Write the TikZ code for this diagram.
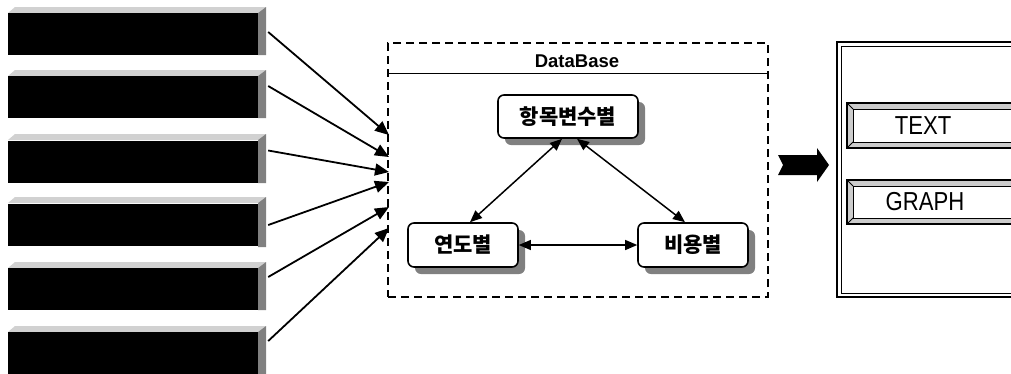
\documentclass[tikz,border=0pt]{standalone}
\usepackage{fontspec}
\setmainfont{Liberation Sans}
\newfontfamily\krfont{Noto Sans CJK KR}
\newfontfamily\narrowfont[FakeStretch=0.85]{Liberation Sans}
\usetikzlibrary{arrows.meta,shadows}
\tikzset{
  bar/.style={fill=black,draw=none,minimum width=250pt,minimum height=42pt,inner sep=0pt},
  inarrow/.style={line width=1.8pt,-{Triangle[length=14pt,width=12pt]}},
  rbox/.style={draw=black,line width=1.6pt,fill=white,rounded corners=6pt,minimum height=43pt,inner sep=0pt,
    font=\krfont\bfseries\fontsize{21pt}{23pt}\selectfont,
    drop shadow={shadow xshift=7pt,shadow yshift=-7pt,fill=black!50,opacity=1}},
  dbl/.style={line width=1.5pt,{Triangle[length=12pt,width=10pt]}-{Triangle[length=12pt,width=10pt]}},
  dbbox/.style={draw=black,line width=1.8pt,dash pattern=on 8pt off 5pt,inner sep=0pt},
  btnout/.style={draw=black,line width=1.6pt,fill=black!20},
  btnin/.style={draw=black,line width=0.8pt,fill=white},
  btntext/.style={font=\narrowfont\fontsize{26pt}{28pt}\selectfont,inner sep=0pt}
}
\begin{document}
\begin{tikzpicture}[x=1pt,y=-1pt]
\useasboundingbox[fill=white] (0,0) rectangle (1011,373);
% bars with 3D edges
\foreach \t/\b in {13/55,76/118,140/183,203/247,268/310,332/374}{
  \fill[black!18] (8,\t) -- (15,\t-6) -- (266,\t-6) -- (258,\t) -- cycle;
  \fill[black!50] (258,\t) -- (266,\t-6) -- (266,\b) -- (258,\b) -- cycle;
}
\node[bar] (b1) at (133,34) {};
\node[bar] (b2) at (133,97) {};
\node[bar] (b3) at (133,161.5) {};
\node[bar] (b4) at (133,225) {};
\node[bar] (b5) at (133,289) {};
\node[bar] (b6) at (133,353) {};
% database container
\node[dbbox,minimum width=380pt,minimum height=254pt] (db) at (578,170) {};
\draw[line width=1pt] (db.west |- 0,73) coordinate (sl) -- (db.east |- 0,73) coordinate (sr);
\node[font=\bfseries\fontsize{18.5pt}{21pt}\selectfont,inner sep=0pt] (dbt) at (577,61) {DataBase};
% incoming arrows
\coordinate (t1) at (389,135);
\coordinate (t2) at (389,157);
\coordinate (t3) at (389,172);
\coordinate (t4) at (389,182);
\coordinate (t5) at (389,207);
\coordinate (t6) at (389,228);
\draw[inarrow] ([xshift=10pt,yshift=2pt]b1.east) -- (t1);
\draw[inarrow] ([xshift=10pt,yshift=11pt]b2.east) -- (t2);
\draw[inarrow] ([xshift=10pt,yshift=11pt]b3.east) -- (t3);
\draw[inarrow] ([xshift=10pt,yshift=0pt]b4.east) -- (t4);
\draw[inarrow] ([xshift=10pt,yshift=12pt]b5.east) -- (t5);
\draw[inarrow] ([xshift=10pt,yshift=12pt]b6.east) -- (t6);
% inner boxes
\node[rbox,minimum width=140pt] (top) at (568,116.5) {항목변수별};
\node[rbox,minimum width=110pt,minimum height=44pt] (yd) at (463,245) {연도별};
\node[rbox,minimum width=110pt,minimum height=44pt] (by) at (693,245) {비용별};
\draw[dbl] ([xshift=-6pt]top.south) -- ([xshift=7pt]yd.north);
\draw[dbl] ([xshift=9pt]top.south) -- ([xshift=-8pt]by.north);
\draw[dbl,line width=1.2pt] (yd.east) -- (by.west);
% big arrow
\fill[black] (778,155) -- (817,155) -- (817,148) -- (829,165) -- (817,182) -- (817,175) -- (778,175) -- (783,165) -- cycle;
% right panel
\draw[line width=1.6pt] (837,42) rectangle (1020,297);
\draw[line width=0.8pt] (841,46) rectangle (1020,293);
% buttons
\draw[btnout] (847,103) rectangle (1024,148);
\draw[btnin] (853,109) rectangle (1024,142);
\draw[line width=0.8pt] (847,103) -- (853,109) (847,148) -- (853,142);
\node[btntext] (txt) at (923,126) {TEXT};
\draw[btnout] (847,180) rectangle (1024,224);
\draw[btnin] (853,186) rectangle (1024,218);
\draw[line width=0.8pt] (847,180) -- (853,186) (847,224) -- (853,218);
\node[btntext] (gr) at (925,202) {GRAPH};
\end{tikzpicture}
\end{document}
